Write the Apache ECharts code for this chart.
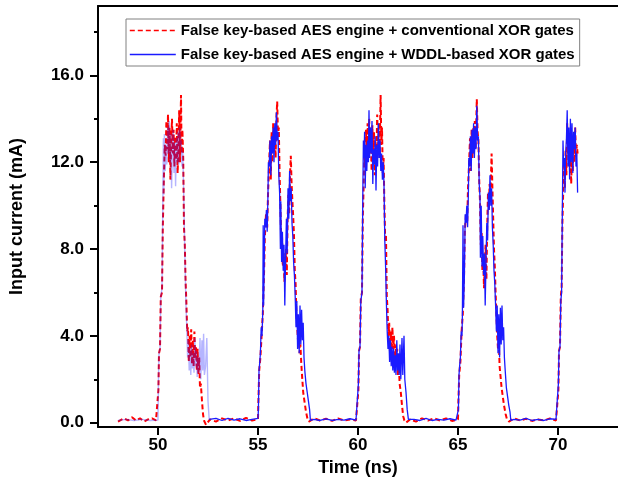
<!DOCTYPE html>
<html>
<head>
<meta charset="utf-8">
<script src="https://cdn.jsdelivr.net/npm/echarts@6/dist/echarts.min.js"></script>
<style>html,body{margin:0;padding:0;background:#fff;}#chart{width:618px;height:487px;}</style>
</head>
<body>
<div id="chart"></div>
<script>
// ---- data ----
var seriesNames = [
  'False key-based AES engine + conventional XOR gates',
  'False key-based AES engine + WDDL-based XOR gates'
];
var xTickValues = [50, 55, 60, 65, 70];
var yTickValues = [0, 4, 8, 12, 16];
var yMinorTickValues = [2, 6, 10, 14, 18];

// conventional XOR gates (red dashed)
var convTime = [
  48.0,48.3,48.5,48.7,48.9,49.1,49.3,49.5,49.7,49.9,50.0,
  50.02,50.05,50.1,50.14,50.2,50.24,50.3,50.34,50.38,50.42,50.46,50.5,50.54,50.58,50.62,50.66,50.7,50.74,50.78,50.82,50.86,50.9,50.94,50.98,51.02,51.06,51.1,51.15,51.18,51.22,51.26,51.3,51.34,51.38,51.42,51.46,51.5,51.54,51.58,51.62,51.66,51.7,51.74,51.78,51.82,51.86,51.9,51.94,51.98,52.02,52.06,52.1,52.14,52.2,52.25,52.3,52.4,
  52.6,52.9,53.2,53.5,53.8,54.1,54.4,54.7,55.0,
  55.02,55.06,55.12,55.18,55.24,55.3,55.34,55.4,55.46,55.5,55.56,55.6,55.64,55.68,55.72,55.76,55.8,55.84,55.88,55.92,55.96,56.0,56.04,56.08,56.12,56.16,56.2,56.24,56.28,56.32,56.36,56.4,56.44,56.48,56.52,56.56,56.6,56.64,56.68,56.72,56.76,56.8,56.84,56.88,56.92,56.96,57.0,57.04,57.08,57.12,57.16,57.2,57.26,57.32,57.4,57.48,57.55,
  57.8,58.1,58.4,58.7,59.0,59.3,59.6,59.9,60.0,
  60.02,60.05,60.1,60.14,60.2,60.24,60.28,60.32,60.36,60.4,60.44,60.48,60.52,60.56,60.6,60.64,60.68,60.72,60.76,60.8,60.84,60.88,60.92,60.96,61.0,61.04,61.08,61.13,61.17,61.2,61.24,61.28,61.32,61.36,61.4,61.44,61.48,61.52,61.56,61.6,61.64,61.68,61.72,61.76,61.8,61.84,61.88,61.92,61.96,62.0,62.04,62.08,62.14,62.2,62.26,62.32,62.4,
  62.6,62.9,63.2,63.5,63.8,64.1,64.4,64.7,65.0,
  65.02,65.06,65.12,65.18,65.24,65.3,65.34,65.4,65.46,65.5,65.56,65.6,65.64,65.68,65.72,65.76,65.8,65.84,65.88,65.94,65.98,66.02,66.06,66.1,66.14,66.18,66.22,66.26,66.3,66.34,66.38,66.42,66.46,66.5,66.54,66.58,66.62,66.68,66.72,66.76,66.8,66.84,66.88,66.92,66.96,67.0,67.04,67.08,67.12,67.18,67.24,67.3,67.38,67.45,67.55,
  67.8,68.1,68.4,68.7,69.0,69.3,69.6,69.9,70.0,
  70.02,70.05,70.1,70.14,70.18,70.22,70.26,70.3,70.34,70.38,70.42,70.46,70.5,70.54,70.58,70.62,70.66,70.7,70.74,70.78,70.82,70.86,70.9,70.94,70.98
];
var convCurrent = [
  0.05,0.2,0.1,0.25,0.1,0.2,0.05,0.15,0.2,0.1,0.1,
  1.5,3.2,3.4,5.8,6.0,9.0,11.5,12.8,12.3,13.9,12.6,14.2,12.0,13.6,11.2,13.0,14.0,12.4,13.5,11.8,13.2,12.1,13.8,11.5,12.6,14.4,12.0,15.1,12.4,13.5,12.2,9.0,8.2,6.5,5.5,4.2,4.4,2.8,4.0,3.0,4.3,2.7,3.8,2.6,4.2,3.0,3.5,2.4,3.4,2.2,3.0,1.6,1.8,1.0,0.4,0.1,-0.1,
  0.15,0.05,0.2,0.1,0.2,0.08,0.22,0.1,0.15,
  1.0,2.4,3.0,4.0,5.0,6.8,8.5,9.6,9.0,10.5,12.0,13.0,11.2,13.4,12.0,13.8,12.5,13.6,12.2,14.0,14.8,13.2,13.6,11.5,10.0,8.4,8.6,7.2,7.8,6.5,7.2,8.0,6.8,9.4,10.5,9.6,11.4,12.3,11.0,10.2,9.5,8.6,7.0,6.4,5.0,4.4,3.8,4.6,3.2,3.6,2.8,2.2,1.4,1.0,0.5,0.15,0.05,
  0.2,0.1,0.18,0.08,0.2,0.1,0.15,0.1,0.1,
  1.5,3.3,3.5,5.7,6.0,9.5,10.8,12.5,11.8,13.5,12.2,13.8,12.5,14.0,12.4,13.2,11.6,13.7,12.0,13.4,11.4,13.0,12.2,14.2,12.6,13.8,12.2,15.1,12.8,13.6,11.5,12.2,10.0,8.4,8.6,5.8,5.2,4.0,4.6,3.2,4.2,3.0,4.4,3.4,4.0,2.8,3.6,2.6,3.4,2.2,2.8,1.8,1.4,0.8,0.3,0.1,0.0,
  0.15,0.05,0.2,0.1,0.2,0.1,0.2,0.08,0.15,
  1.0,2.2,2.8,4.2,5.0,6.6,8.8,9.6,9.2,10.8,12.1,13.1,11.6,13.5,12.2,13.6,12.4,13.9,12.6,14.9,13.4,13.0,11.2,10.2,8.2,8.8,7.0,7.6,6.2,7.4,8.2,6.6,9.0,10.6,9.8,11.0,10.4,12.4,10.8,9.4,8.0,7.2,6.0,5.0,4.0,3.4,3.8,2.6,2.2,1.6,1.2,0.8,0.4,0.15,0.05,
  0.2,0.1,0.18,0.08,0.15,0.1,0.2,0.1,0.1,
  1.5,3.3,3.5,5.8,6.2,9.2,10.6,12.0,10.8,12.6,11.4,13.8,12.4,13.2,11.8,12.8,11.0,12.6,11.6,13.4,12.0,13.6,12.2,12.8,12.4
];

// WDDL-based XOR gates (blue solid)
var wddlTime = [
  48.0,48.4,48.8,49.2,49.6,50.0,
  50.02,50.05,50.1,50.14,50.2,50.24,50.27,50.29,50.32,50.36,50.4,50.44,50.48,50.52,50.56,50.6,50.64,50.68,50.72,50.76,50.8,50.84,50.88,50.92,50.96,51.0,51.04,51.08,51.12,51.16,51.2,51.24,51.28,51.32,51.36,51.4,51.44,51.48,51.52,51.56,51.6,51.64,51.68,51.72,51.76,51.8,51.84,51.88,51.92,51.96,52.0,52.04,52.1,52.14,52.2,52.24,52.28,52.32,52.38,52.44,52.5,52.56,
  52.6,52.9,53.2,53.5,53.8,54.1,54.4,54.7,55.0,
  55.02,55.05,55.08,55.12,55.16,55.2,55.24,55.26,55.28,55.3,55.34,55.38,55.42,55.46,55.5,55.52,55.56,55.6,55.64,55.68,55.72,55.76,55.8,55.84,55.88,55.92,55.96,56.0,56.04,56.08,56.12,56.14,56.18,56.22,56.26,56.3,56.34,56.38,56.42,56.46,56.5,56.54,56.58,56.62,56.66,56.7,56.74,56.78,56.82,56.86,56.9,56.94,56.98,57.02,57.06,57.1,57.14,57.18,57.22,57.26,57.3,57.34,57.4,57.46,57.52,57.58,57.62,
  57.8,58.1,58.4,58.7,59.0,59.3,59.6,59.9,60.0,
  60.02,60.05,60.1,60.14,60.2,60.24,60.27,60.3,60.33,60.36,60.4,60.44,60.48,60.52,60.55,60.58,60.62,60.66,60.7,60.74,60.78,60.82,60.86,60.9,60.94,60.98,61.02,61.06,61.1,61.14,61.18,61.22,61.26,61.3,61.34,61.38,61.42,61.46,61.5,61.54,61.58,61.62,61.66,61.7,61.74,61.78,61.82,61.86,61.9,61.94,61.98,62.02,62.06,62.1,62.14,62.2,62.24,62.3,62.34,62.4,62.46,62.52,
  62.8,63.1,63.4,63.7,64.0,64.3,64.6,64.9,65.0,
  65.02,65.05,65.08,65.12,65.16,65.2,65.22,65.25,65.28,65.32,65.36,65.4,65.44,65.48,65.52,65.54,65.58,65.62,65.66,65.7,65.74,65.78,65.82,65.86,65.9,65.94,65.98,66.02,66.06,66.1,66.12,66.16,66.2,66.24,66.28,66.32,66.36,66.4,66.44,66.48,66.52,66.56,66.6,66.64,66.68,66.72,66.76,66.8,66.84,66.88,66.92,66.96,67.0,67.04,67.08,67.12,67.16,67.2,67.24,67.28,67.32,67.36,67.42,67.48,67.54,67.6,67.64,
  67.8,68.1,68.4,68.7,69.0,69.3,69.6,69.9,70.0,
  70.02,70.05,70.1,70.14,70.18,70.22,70.25,70.28,70.32,70.35,70.38,70.42,70.46,70.5,70.54,70.58,70.62,70.66,70.7,70.74,70.78,70.82,70.86,70.9,70.94,70.98
];
var wddlCurrent = [
  0.1,0.15,0.1,0.15,0.1,0.12,
  1.8,3.2,3.4,5.8,6.2,9.8,13.1,10.5,13.3,11.6,12.8,11.9,13.6,12.4,13.9,12.0,13.3,10.8,12.6,13.5,11.5,12.9,10.9,13.1,12.0,13.4,11.9,13.6,12.8,13.0,11.8,12.5,10.8,8.8,7.0,5.4,4.4,3.0,3.8,2.4,3.4,2.2,3.6,2.5,3.2,2.3,3.9,2.6,3.3,2.1,3.0,2.3,3.9,2.0,3.8,2.4,4.1,2.2,2.6,3.9,1.0,0.15,
  0.15,0.2,0.1,0.2,0.12,0.18,0.1,0.15,0.2,
  0.6,2.4,2.7,3.2,4.4,4.0,5.2,9.1,5.4,6.6,9.4,9.0,9.8,8.8,10.6,12.0,11.8,13.0,11.4,13.2,12.4,13.6,12.0,13.8,12.8,14.3,13.0,13.4,11.4,10.6,8.0,10.2,7.4,8.8,7.0,8.2,5.4,7.6,9.4,7.8,10.8,9.4,11.6,10.2,10.8,9.2,8.6,7.4,6.8,5.8,4.4,5.6,3.4,5.0,3.2,5.4,3.6,5.2,3.8,4.6,3.0,2.4,1.8,1.4,1.0,0.6,0.1,
  0.15,0.1,0.18,0.1,0.15,0.12,0.18,0.12,0.15,
  1.8,3.3,3.5,5.6,6.0,10.4,13.0,12.2,13.4,10.8,12.8,11.6,13.0,12.0,14.4,12.2,13.6,12.4,13.9,11.0,12.6,11.9,13.2,10.7,12.8,11.8,13.8,12.2,13.0,11.6,12.4,11.2,12.0,11.0,8.4,7.2,5.5,4.2,3.4,4.0,2.8,3.8,2.6,3.5,2.4,3.4,2.3,3.1,2.2,3.8,2.4,3.2,2.2,3.6,2.0,3.9,2.2,4.0,2.0,1.4,0.6,0.15,
  0.15,0.1,0.2,0.1,0.15,0.12,0.18,0.12,0.15,
  0.6,2.2,2.6,3.0,4.2,4.0,5.0,9.1,5.3,6.8,9.6,9.2,10.0,9.0,10.6,12.2,11.8,13.2,11.6,13.5,12.4,13.8,12.2,13.6,12.6,14.6,13.0,13.2,11.0,10.4,7.6,10.0,7.2,8.6,6.8,7.8,5.4,7.4,9.2,8.4,10.6,9.8,11.4,10.0,10.8,9.0,8.2,7.0,6.4,5.4,4.2,5.4,3.2,5.0,3.0,5.3,3.6,5.4,3.8,4.4,3.0,2.4,1.6,1.2,0.8,0.5,0.1,
  0.15,0.12,0.2,0.1,0.15,0.1,0.18,0.15,0.2,
  1.8,3.3,3.5,5.6,6.0,10.0,13.0,11.8,12.2,10.6,12.4,13.0,14.4,11.8,13.6,11.2,14.0,12.0,13.8,11.5,13.4,12.6,13.6,11.8,12.4,10.6
];
// the first pulse of the WDDL trace is drawn faint in the reference
var faintUntil = 52.56;

// ---- build ----
function pairs(ts, vs, test) {
  var out = [];
  for (var i = 0; i < ts.length; i++) if (test(ts[i])) out.push([ts[i], vs[i]]);
  return out;
}
var convData = pairs(convTime, convCurrent, function () { return true; });
var wddlFaint = pairs(wddlTime, wddlCurrent, function (t) { return t <= faintUntil; });
var wddlSolid = pairs(wddlTime, wddlCurrent, function (t) { return t >= faintUntil; });

var FONT = 'Liberation Sans, Arial, sans-serif';
var chart = echarts.init(document.getElementById('chart'), null, { renderer: 'canvas' });
chart.setOption({
  animation: false,
  backgroundColor: '#ffffff',
  grid: { left: 98, top: 6, width: 523, height: 421, containLabel: false },
  legend: {
    data: seriesNames,
    orient: 'vertical',
    left: 126, top: 19,
    itemWidth: 46, itemHeight: 14, itemGap: 9,
    padding: [4, 5, 4, 3],
    borderColor: '#808080', borderWidth: 1,
    backgroundColor: '#fff',
    itemStyle: { opacity: 0 },
    lineStyle: { width: 1.6 },
    textStyle: { fontFamily: FONT, fontWeight: 'bold', fontSize: 15, color: '#000' }
  },
  xAxis: [{
    type: 'value', min: 47, max: 73,
    name: 'Time (ns)', nameLocation: 'middle', nameGap: 32,
    nameTextStyle: { fontFamily: FONT, fontWeight: 'bold', fontSize: 18, color: '#000', verticalAlign: 'top' },
    axisLine: { show: true, onZero: false, lineStyle: { color: '#000', width: 2 } },
    axisTick: { show: true, inside: false, length: 8, customValues: xTickValues, lineStyle: { color: '#000', width: 2 } },
    axisLabel: { customValues: xTickValues, margin: 10, fontFamily: FONT, fontWeight: 'bold', fontSize: 17, color: '#000' },
    splitLine: { show: false }
  }, {
    type: 'value', min: 47, max: 73, position: 'top',
    axisLine: { show: true, onZero: false, lineStyle: { color: '#000', width: 2 } },
    axisTick: { show: false }, axisLabel: { show: false }, splitLine: { show: false }
  }],
  yAxis: [{
    type: 'value', min: -0.2, max: 19.2,
    name: 'Input current (mA)', nameLocation: 'middle', nameGap: 72, nameRotate: 90,
    nameTextStyle: { fontFamily: FONT, fontWeight: 'bold', fontSize: 18, color: '#000' },
    axisLine: { show: true, onZero: false, lineStyle: { color: '#000', width: 2 } },
    axisTick: { show: true, inside: false, length: 8, customValues: yTickValues, lineStyle: { color: '#000', width: 2 } },
    axisLabel: { customValues: yTickValues, margin: 14, fontFamily: FONT, fontWeight: 'bold', fontSize: 17, color: '#000',
      formatter: function (v) { return v.toFixed(1); } },
    splitLine: { show: false }
  }, {
    type: 'value', min: -0.2, max: 19.2, position: 'left',
    axisLine: { show: false },
    axisTick: { show: true, inside: false, length: 4, customValues: yMinorTickValues, lineStyle: { color: '#000', width: 2 } },
    axisLabel: { show: false }, splitLine: { show: false }
  }],
  series: [{
    name: seriesNames[0], type: 'line', data: convData, symbol: 'none',
    xAxisIndex: 0, yAxisIndex: 0,
    lineStyle: { color: '#ff0000', width: 2, type: [5, 3] },
    itemStyle: { color: '#ff0000' }, z: 2
  }, {
    name: 'faint', type: 'line', data: wddlFaint, symbol: 'none',
    xAxisIndex: 0, yAxisIndex: 0,
    lineStyle: { color: '#1a1aff', width: 1.4, opacity: 0.32 },
    itemStyle: { color: '#1a1aff' }, z: 3
  }, {
    name: seriesNames[1], type: 'line', data: wddlSolid, symbol: 'none',
    xAxisIndex: 0, yAxisIndex: 0,
    lineStyle: { color: '#1a1aff', width: 1.3 },
    itemStyle: { color: '#1a1aff' }, z: 3
  }]
});
</script>
</body>
</html>
